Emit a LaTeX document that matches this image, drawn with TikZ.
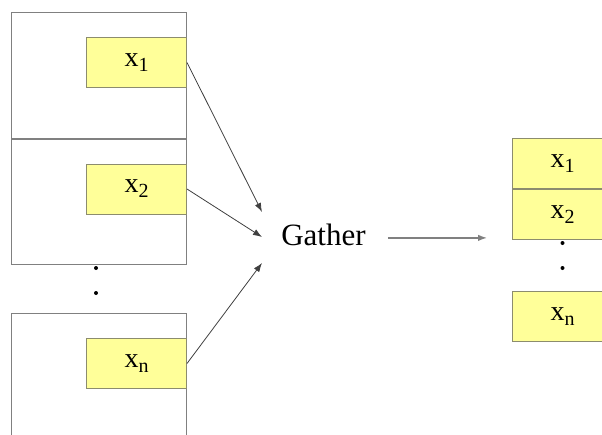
\documentclass[tikz,border=0pt]{standalone}
\usepackage{fontspec}
\setmainfont{Liberation Serif}
\usetikzlibrary{arrows.meta, positioning}
\definecolor{cellyellow}{RGB}{255,255,153}
\definecolor{framegray}{RGB}{128,128,128}
\definecolor{celledge}{RGB}{140,140,110}
% lowered index after a variable name
\newcommand{\lowidx}[1]{\raisebox{-0.4ex}{\fontsize{20}{24}\selectfont #1}}

\begin{document}
\begin{tikzpicture}[x=1pt, y=-1pt,
    every node/.style={font=\fontsize{28}{34}\selectfont},
    procbox/.style={rectangle, draw=framegray, line width=1pt, minimum width=175pt, minimum height=125.5pt, inner sep=0pt},
    cell/.style={rectangle, draw=celledge, fill=cellyellow, line width=1pt, minimum width=100pt, minimum height=50pt, inner sep=0pt},
    dotmark/.style={circle, fill=black, inner sep=0pt, minimum size=4pt},
    feed/.style={-{Latex[length=9pt,width=6.5pt]}, draw=black!75, line width=0.8pt}
]
\clip (0,0) rectangle (602,434);

% processes on the left
\node[procbox, anchor=north west] (box1) at (11,12) {};
\node[procbox, below=0pt of box1] (box2) {};
\node[procbox, anchor=north west, minimum height=140pt] (box3) at (11,313) {};
\node[cell, anchor=north east] (c1) at ([yshift=-25pt]box1.north east) {x\lowidx{1}};
\node[cell, anchor=north east] (c2) at ([yshift=-25pt]box2.north east) {x\lowidx{2}};
\node[cell, anchor=north east] (cn) at ([yshift=-25pt]box3.north east) {x\lowidx{n}};
\node[dotmark] (ldot1) at (96,268) {};
\node[dotmark] (ldot2) at (96,293) {};

% gather step
\node[font=\fontsize{31}{36}\selectfont, inner sep=0pt, anchor=base] (gather) at (323.5,245) {Gather};
\coordinate (in1) at (262,212);
\coordinate (in2) at (262,237);
\coordinate (in3) at (262,263);
\draw[feed] (c1.east) -- (in1);
\draw[feed] (c2.east) -- (in2);
\draw[feed] (cn.east) -- (in3);

% gathered result on the right
\node[cell, anchor=north west] (r1) at (512,138) {x\lowidx{1}};
\node[cell, below=0pt of r1] (r2) {x\lowidx{2}};
\node[cell, below=51pt of r2] (rn) {x\lowidx{n}};
\node[dotmark] (rdot1) at (r2.south |- 0,243) {};
\node[dotmark] (rdot2) at (r2.south |- 0,268) {};

\draw[-{Latex[length=9pt,width=6.5pt]}, draw=framegray, line width=1.3pt, shorten <=22pt, shorten >=25pt]
    ([yshift=-3.5pt]gather.east) -- ([yshift=-3.5pt]gather.east -| r1.west);
\end{tikzpicture}
\end{document}
